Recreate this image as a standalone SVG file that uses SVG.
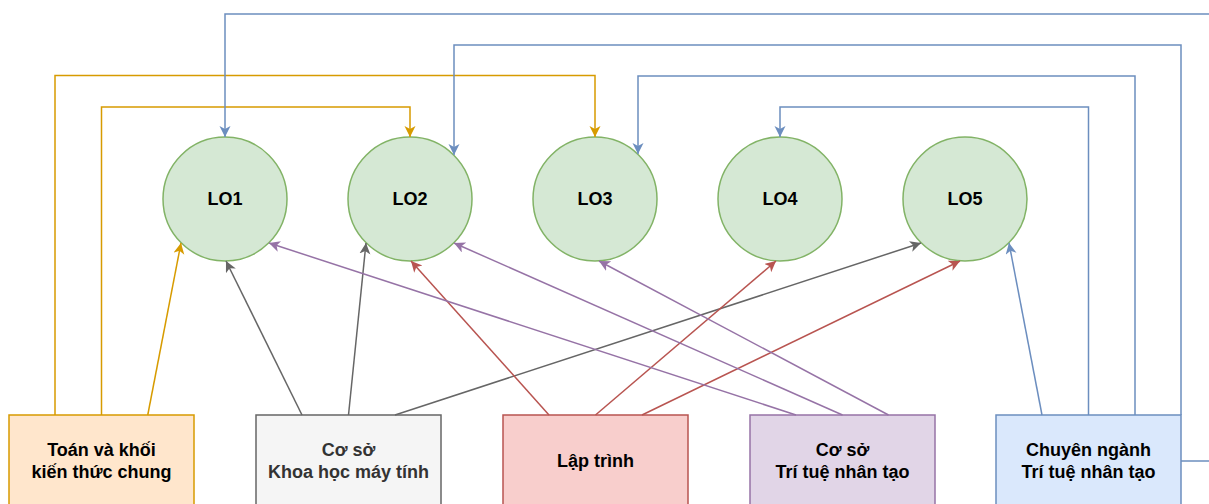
<svg xmlns="http://www.w3.org/2000/svg" width="1209" height="504" viewBox="0 0 1209 504">
<style>
.lo{fill:#d5e8d4;stroke:#82b366;stroke-width:1.5}
.lbl{font-family:"Liberation Sans",Arial,sans-serif;font-size:18px;font-weight:bold;text-anchor:middle;fill:#000}
.box{stroke-width:1.5}
.e{fill:none;stroke-width:1.5}
.or{stroke:#d79b00}.bl{stroke:#6c8ebf}.gr{stroke:#666666}.rd{stroke:#b85450}.pu{stroke:#9673a6}
</style>
<defs>
<marker id="aor" markerUnits="userSpaceOnUse" markerWidth="12" markerHeight="12" refX="11" refY="5.5" orient="auto"><path d="M0,0 L11,5.5 L0,11 L3,5.5 Z" fill="#d79b00"/></marker>
<marker id="abl" markerUnits="userSpaceOnUse" markerWidth="12" markerHeight="12" refX="11" refY="5.5" orient="auto"><path d="M0,0 L11,5.5 L0,11 L3,5.5 Z" fill="#6c8ebf"/></marker>
<marker id="agr" markerUnits="userSpaceOnUse" markerWidth="12" markerHeight="12" refX="11" refY="5.5" orient="auto"><path d="M0,0 L11,5.5 L0,11 L3,5.5 Z" fill="#666666"/></marker>
<marker id="ard" markerUnits="userSpaceOnUse" markerWidth="12" markerHeight="12" refX="11" refY="5.5" orient="auto"><path d="M0,0 L11,5.5 L0,11 L3,5.5 Z" fill="#b85450"/></marker>
<marker id="apu" markerUnits="userSpaceOnUse" markerWidth="12" markerHeight="12" refX="11" refY="5.5" orient="auto"><path d="M0,0 L11,5.5 L0,11 L3,5.5 Z" fill="#9673a6"/></marker>
</defs>
<rect width="1209" height="504" fill="#fff"/>
<g id="lo1"><circle class="lo" cx="225" cy="199" r="62"/><text class="lbl" x="225" y="205">LO1</text></g>
<g id="lo2"><circle class="lo" cx="410" cy="199" r="62"/><text class="lbl" x="410" y="205">LO2</text></g>
<g id="lo3"><circle class="lo" cx="595" cy="199" r="62"/><text class="lbl" x="595" y="205">LO3</text></g>
<g id="lo4"><circle class="lo" cx="780" cy="199" r="62"/><text class="lbl" x="780" y="205">LO4</text></g>
<g id="lo5"><circle class="lo" cx="965" cy="199" r="62"/><text class="lbl" x="965" y="205">LO5</text></g>
<g id="toan"><rect class="box" x="9" y="415" width="185" height="92" fill="#ffe6cc" stroke="#d79b00"/><text class="lbl" x="101.5" y="456">Toán và khối</text><text class="lbl" x="101.5" y="478">kiến thức chung</text></g>
<g id="cskhmt"><rect class="box" x="256" y="415" width="185" height="92" fill="#f5f5f5" stroke="#666666"/><text class="lbl" x="348.5" y="456" style="fill:#333333">Cơ sở</text><text class="lbl" x="348.5" y="478" style="fill:#333333">Khoa học máy tính</text></g>
<g id="laptrinh"><rect class="box" x="503" y="415" width="185" height="92" fill="#f8cecc" stroke="#b85450"/><text class="lbl" x="595.5" y="467">Lập trình</text></g>
<g id="csttnt"><rect class="box" x="750" y="415" width="185" height="92" fill="#e1d5e7" stroke="#9673a6"/><text class="lbl" x="842.5" y="456">Cơ sở</text><text class="lbl" x="842.5" y="478">Trí tuệ nhân tạo</text></g>
<g id="cnttnt"><rect class="box" x="996" y="415" width="185" height="92" fill="#dae8fc" stroke="#6c8ebf"/><text class="lbl" x="1088.5" y="456">Chuyên ngành</text><text class="lbl" x="1088.5" y="478">Trí tuệ nhân tạo</text></g>
<g id="connectors">
<path class="e or" d="M55,415 V75.5 H595 V137" marker-end="url(#aor)"/>
<path class="e or" d="M101.5,415 V107 H410 V137" marker-end="url(#aor)"/>
<path class="e or" d="M147.75,415 L181,243" marker-end="url(#aor)"/>
<path class="e bl" d="M1181,461 H1230 V14 H225 V137" marker-end="url(#abl)"/>
<path class="e bl" d="M1181,415 V45 H454 V155" marker-end="url(#abl)"/>
<path class="e bl" d="M1135,415 V76 H638 V154" marker-end="url(#abl)"/>
<path class="e bl" d="M1088.5,415 V107 H780 V137" marker-end="url(#abl)"/>
<path class="e bl" d="M1042,415 L1009,243" marker-end="url(#abl)"/>
<path class="e gr" d="M302,415 L226,261" marker-end="url(#agr)"/>
<path class="e gr" d="M348.5,415 L366,243" marker-end="url(#agr)"/>
<path class="e gr" d="M395,415 L921,243" marker-end="url(#agr)"/>
<path class="e rd" d="M549,415 L411,261" marker-end="url(#ard)"/>
<path class="e rd" d="M595.5,415 L776,261" marker-end="url(#ard)"/>
<path class="e rd" d="M642,415 L960,261" marker-end="url(#ard)"/>
<path class="e pu" d="M796,415 L269,243" marker-end="url(#apu)"/>
<path class="e pu" d="M842.5,415 L454,243" marker-end="url(#apu)"/>
<path class="e pu" d="M888.5,415 L599,261" marker-end="url(#apu)"/>
</g>
</svg>
